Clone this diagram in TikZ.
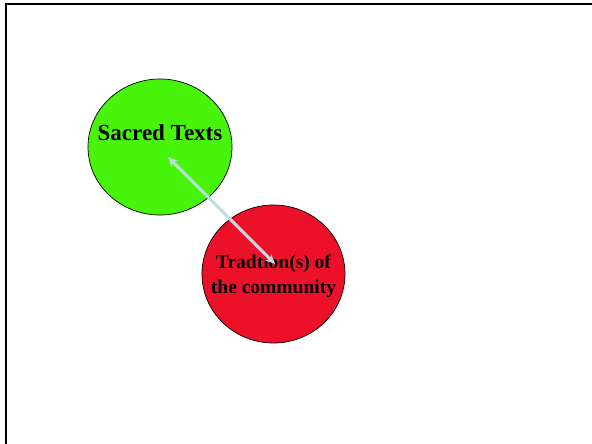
\documentclass[tikz,border=0pt]{standalone}
\usepackage{fontspec}
\setmainfont{Liberation Serif}
\usetikzlibrary{calc,shapes.geometric,arrows.meta}

\definecolor{textsgreen}{RGB}{72,245,10}
\definecolor{traditionred}{RGB}{236,17,41}
\definecolor{linkblue}{RGB}{188,222,227}

\tikzset{
	blob/.style = {ellipse,draw=black,line width=0.7pt,inner sep=0pt,
		minimum width=144pt,minimum height=136pt},
	blobtext/.style = {align=center,inner sep=0pt,font=\bfseries}
}

\begin{document}
\begin{tikzpicture}[x=1pt,y=-1pt]
				\useasboundingbox (0,0) rectangle (592,444);
				\coordinate (S) at (160,147);
				\coordinate (R) at (273.5,274);
				
				\draw[line width=2pt] (6,444) -- (6,4.5) -- (592,4.5);
				
				\node[blob,fill=textsgreen] (sacred) at (S) {};
				\node[blob,fill=traditionred,minimum width=143pt,minimum height=138pt] (tradition) at (R) {};
				
				\node[blobtext,font=\fontsize{23}{27}\selectfont\bfseries] (sacredlabel) at ($(S)+(0,-14)$) {Sacred Texts};
				\node[blobtext,font=\fontsize{19.5}{22}\selectfont\bfseries] (traditionlabel) at ($(R)+(0,2)$) {Tradtion(s) of\\[3pt]the community};
				
				\coordinate (A) at ($(S)+(8,10)$);
				\coordinate (B) at ($(R)+(1.5,-10)$);
				\draw[linkblue,line width=3pt,{Stealth[length=10pt,width=9pt]}-{Stealth[length=10pt,width=9pt]}] (A) -- (B);
			\end{tikzpicture}
\end{document}
